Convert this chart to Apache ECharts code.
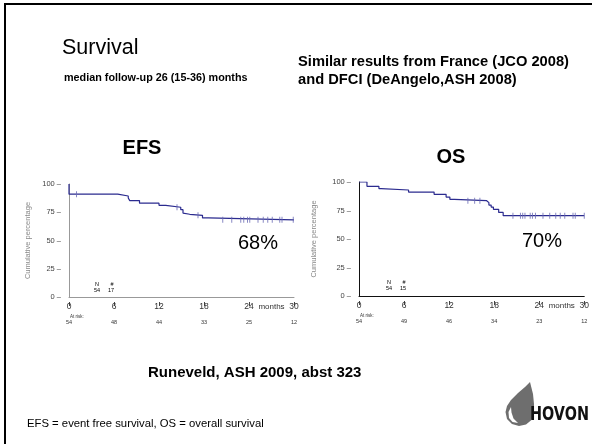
<!DOCTYPE html>
<html>
<head>
<meta charset="utf-8">
<script src="https://cdn.jsdelivr.net/npm/echarts@6/dist/echarts.min.js"></script>
<style>
  html, body { margin: 0; padding: 0; background: #fff; }
  #chart { width: 592px; height: 444px; }
</style>
</head>
<body>
<div id="chart"></div>
<script>
// EFS curve: step points (months, cumulative %)
const efsMonths = [0, 0, 6.5, 7.9, 8.1, 9.4, 12.0, 12.9, 14.9, 15.2, 15.4, 16.1, 17.8, 18.6, 30];
const efsValues = [100, 91, 89.4, 87.6, 85.3, 83, 81.1, 79.4, 77.3, 74.3, 73.2, 72.3, 70, 68.3, 68.3];
const efsCensored = [1.0, 14.4, 17.2, 20.5, 21.7, 22.9, 23.3, 23.8, 24.1, 25.2, 25.9, 26.5, 27.1, 28.1, 28.4, 29.9];

// OS curve
const osMonths = [0, 1.06, 2.65, 2.96, 6.6, 10.0, 11.6, 12.1, 12.7, 17.0, 17.3, 17.6, 17.9, 18.6, 19.2, 30];
const osValues = [100, 96.2, 94.2, 93, 91.2, 89.2, 86.8, 84.8, 83.6, 81.9, 79.8, 78, 76, 73.3, 70.5, 70.5];
const osCensored = [14.5, 15.4, 16.1, 20.5, 21.5, 21.8, 22.1, 22.8, 23.1, 23.5, 24.5, 25.4, 26.2, 26.8, 27.4, 28.5, 28.8, 30.0];

// axis ticks and numbers at risk
const monthTicks = [0, 6, 12, 18, 24, 30];
const efsAtRisk = [54, 48, 44, 33, 25, 12];
const osAtRisk = [54, 49, 46, 34, 23, 12];

const curveColor = "#2b2b8f";
const font = "Liberation Sans";

// level of a step curve at time t
function levelAt(months, values, t) {
  let v = values[0];
  for (let i = 0; i < months.length; i++) {
    if (months[i] <= t) v = values[i];
  }
  return v;
}

function xAxes(gridIndex, atRisk, lineColor) {
  return [
    {
      gridIndex: gridIndex,
      type: "value",
      min: 0,
      max: 30,
      splitLine: { show: false },
      axisLine: { lineStyle: { color: lineColor, width: 1 } },
      axisTick: { show: false },
      axisLabel: {
        customValues: monthTicks.concat([27]),
        margin: 5,
        formatter: (v) => {
          if (v === 27) return "{m|months}\n{g| }\n{n| }";
          const i = monthTicks.indexOf(v);
          return "{d|" + v + "}\n{g| }\n{n|" + atRisk[i] + "}";
        },
        rich: {
          d: { fontSize: 8.5, lineHeight: 10, color: "#333", fontFamily: font },
          m: { fontSize: 8, lineHeight: 10, color: "#333", fontFamily: font },
          g: { fontSize: 4, lineHeight: 6 },
          n: { fontSize: 5.5, lineHeight: 8, color: "#333", fontFamily: font }
        }
      }
    },
    {
      gridIndex: gridIndex,
      type: "value",
      min: 0,
      max: 30,
      offset: 5,
      position: "bottom",
      splitLine: { show: false },
      axisLine: { show: false },
      axisLabel: { show: false },
      axisTick: { customValues: monthTicks, length: 4, lineStyle: { color: "#444" } }
    }
  ];
}

function yAxis(gridIndex, lineColor, nameGap) {
  return {
    gridIndex: gridIndex,
    type: "value",
    min: 0,
    max: 100,
    interval: 25,
    name: "Cumulative percentage",
    nameLocation: "middle",
    nameRotate: 90,
    nameGap: nameGap,
    nameTextStyle: { color: "#888", fontSize: 7.5, fontFamily: font },
    splitLine: { show: false },
    axisLine: { show: true, lineStyle: { color: lineColor, width: 1 } },
    axisTick: { show: false },
    axisLabel: {
      margin: 8,
      color: "#444",
      fontSize: 7.5,
      fontFamily: font,
      formatter: (v) => v + " \u2013"
    }
  };
}

function curveSeries(axisIdx, yIdx, months, values, censored) {
  return [
    {
      type: "line",
      xAxisIndex: axisIdx,
      yAxisIndex: yIdx,
      step: "end",
      symbol: "none",
      lineStyle: { color: curveColor, width: 1.2 },
      data: months.map((m, i) => [m, values[i]]),
      z: 3
    },
    {
      type: "scatter",
      xAxisIndex: axisIdx,
      yAxisIndex: yIdx,
      symbol: "rect",
      symbolSize: [1, 6],
      itemStyle: { color: "#6a6ab4" },
      data: censored.map((t) => [t, levelAt(months, values, t)]),
      z: 4
    }
  ];
}

function txt(x, y, text, size, weight, extra) {
  return {
    type: "text",
    x: x,
    y: y,
    style: Object.assign({
      text: text,
      fontSize: size,
      fontWeight: weight,
      fontFamily: font,
      fill: "#000",
      verticalAlign: "middle"
    }, extra || {})
  };
}

const chart = echarts.init(document.getElementById("chart"));
chart.setOption({
  backgroundColor: "#fff",
  animation: false,
  grid: [
    { left: 69, top: 184, width: 225, height: 113 },
    { left: 359, top: 182, width: 227, height: 114 }
  ],
  xAxis: xAxes(0, efsAtRisk, "#999").concat(xAxes(1, osAtRisk, "#111")),
  yAxis: [yAxis(0, "#999", 37), yAxis(1, "#111", 41)],
  series: curveSeries(0, 0, efsMonths, efsValues, efsCensored)
    .concat(curveSeries(2, 1, osMonths, osValues, osCensored)),
  graphic: [
    {
      type: "rect",
      shape: { x: 5, y: 4, width: 620, height: 470 },
      style: { fill: "none", stroke: "#000", lineWidth: 2 }
    },
    txt(62, 48, "Survival", 21.5, "normal"),
    txt(64, 78, "median follow-up 26 (15-36) months", 10.8, "bold"),
    txt(298, 62, "Similar results from France (JCO 2008)", 14.7, "bold"),
    txt(298, 80, "and DFCI (DeAngelo,ASH 2008)", 14.7, "bold"),
    txt(142, 148, "EFS", 20, "bold", { align: "center" }),
    txt(451, 157, "OS", 20, "bold", { align: "center" }),
    txt(258, 243, "68%", 20, "normal", { align: "center" }),
    txt(542, 241, "70%", 20, "normal", { align: "center" }),
    txt(97, 284, "N", 5.5, "normal", { align: "center" }),
    txt(112, 284, "#", 5.5, "normal", { align: "center" }),
    txt(97, 290.5, "54", 5.5, "normal", { align: "center" }),
    txt(111, 290.5, "17", 5.5, "normal", { align: "center" }),
    txt(389, 282, "N", 5.5, "normal", { align: "center" }),
    txt(404, 282, "#", 5.5, "normal", { align: "center" }),
    txt(389, 288.5, "54", 5.5, "normal", { align: "center" }),
    txt(403, 288.5, "15", 5.5, "normal", { align: "center" }),
    txt(70, 316.5, "At risk:", 4.5, "normal", { fill: "#333" }),
    txt(360, 315.5, "At risk:", 4.5, "normal", { fill: "#333" }),
    txt(148, 373, "Runeveld, ASH 2009, abst 323", 15, "bold"),
    txt(27, 424, "EFS = event free survival, OS = overall survival", 11.3, "normal"),
    // HOVON logo
    {
      type: "polygon",
      shape: {
        points: [[530, 382], [525, 387], [518, 393], [511, 400], [507, 406], [505.5, 412], [507, 419],
                 [512, 424], [519, 426], [526, 424.5], [531.5, 420], [534, 413], [534, 404], [533, 394]]
      },
      style: { fill: "#6e6e6e" }
    },
    {
      type: "polygon",
      shape: {
        points: [[511, 407], [508.5, 412], [509, 418], [512.5, 422], [518, 423], [513.5, 418.5], [511.5, 412.5]]
      },
      style: { fill: "#fff" }
    },
    {
      type: "text",
      x: 589,
      y: 415,
      scaleX: 0.72,
      style: {
        text: "HOVON",
        fontSize: 20,
        fontWeight: "bold",
        fontFamily: "DejaVu Sans",
        fill: "#111",
        align: "right",
        verticalAlign: "middle"
      }
    }
  ]
});
</script>
</body>
</html>
